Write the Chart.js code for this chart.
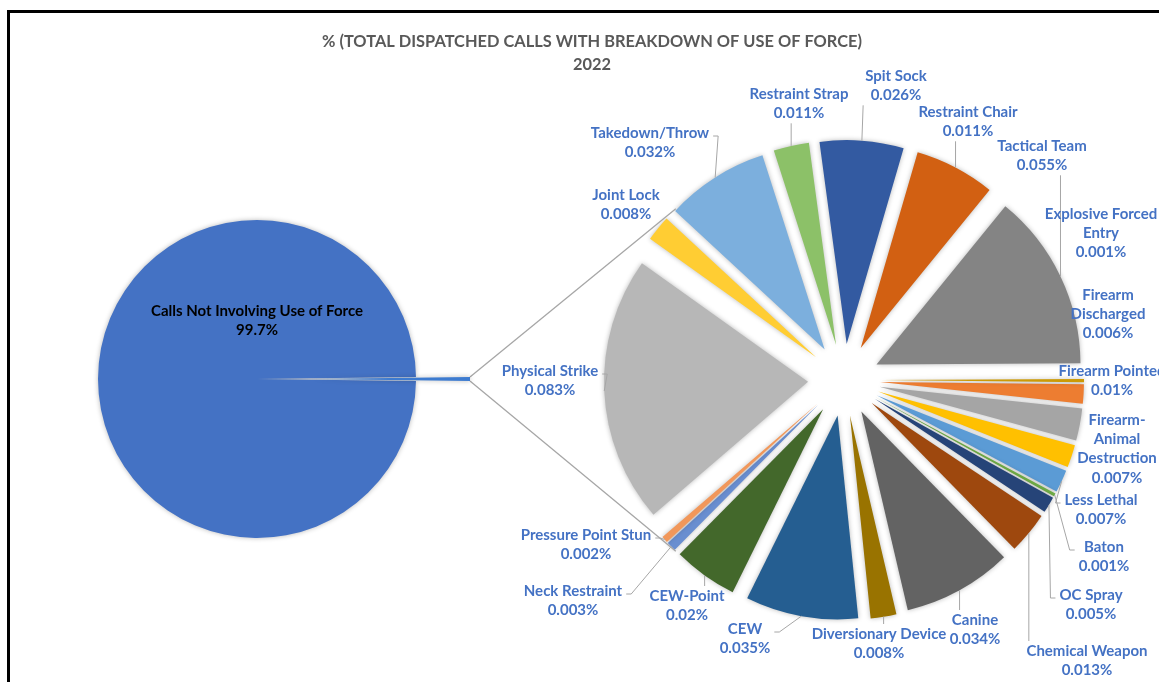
<!DOCTYPE html>
<html>
<head>
<meta charset="utf-8">
<title>% Total dispatched calls with breakdown of use of force 2022</title>
<script src="https://cdn.jsdelivr.net/npm/chart.js@4.4.1/dist/chart.umd.min.js"></script>
<style>
  html, body { margin: 0; padding: 0; background: #fff; }
  body { width: 1159px; height: 682px; position: relative; overflow: hidden; }
  #frame { position: absolute; left: 7px; top: 10px; width: 1220px; height: 720px;
           border-left: 3px solid #000; border-top: 3px solid #000; }
  #breakdown, #overall { position: absolute; left: 0; top: 0; }
</style>
</head>
<body>
<div id="frame"></div>
<canvas id="breakdown" width="1159" height="682"></canvas>
<canvas id="overall" width="520" height="682"></canvas>
<script>
// ---- data ----
const overallLabels = ["Calls Not Involving Use of Force", "Use of Force"];
const callsNotInvolving = 99.7;

// secondary pie, in drawing order (clockwise, starting just below 3 o'clock)
const forceTypes = [
  "Firearm Discharged", "Firearm Pointed", "Firearm-Animal Destruction", "Less Lethal",
  "Baton", "OC Spray", "Chemical Weapon", "Canine", "Diversionary Device", "CEW",
  "CEW-Point", "Neck Restraint", "Pressure Point Stun", "Physical Strike", "Joint Lock",
  "Takedown/Throw", "Restraint Strap", "Spit Sock", "Restraint Chair", "Tactical Team",
  "Explosive Forced Entry"
];
// % printed in the data labels
const forcePct = [0.006, 0.01, 0.007, 0.007, 0.001, 0.005, 0.013, 0.034, 0.008, 0.035,
                  0.02, 0.003, 0.002, 0.083, 0.008, 0.032, 0.011, 0.026, 0.011, 0.055, 0.001];
// slice sizes as drawn (the Restraint Chair slice is drawn about as big as Spit Sock)
const forceSlice = [0.006, 0.01, 0.007, 0.007, 0.001, 0.005, 0.013, 0.034, 0.008, 0.035,
                    0.02, 0.003, 0.002, 0.083, 0.008, 0.032, 0.011, 0.026, 0.025, 0.055, 0.001];

const forceColors = [
  "#ED7D31", "#A5A5A5", "#FFC000", "#5B9BD5", "#70AD47", "#264478", "#9E480E",
  "#636363", "#997300", "#255E91", "#43682B", "#698ED0", "#F1975A", "#B7B7B7",
  "#FFCD33", "#7CAFDD", "#8CC168", "#335AA1", "#D26012", "#848484", "#CC9A06"
];

// ---- layout of the data labels (centre x, first line y, leader style) ----
const labelLines = {
  "Firearm Discharged": ["Firearm", "Discharged"],
  "Firearm-Animal Destruction": ["Firearm-", "Animal", "Destruction"],
  "Explosive Forced Entry": ["Explosive Forced", "Entry"]
};
const labelSpots = [
  { x: 1108, y: 295, leader: null },
  { x: 1112, y: 371, leader: null },
  { x: 1117, y: 420, leader: null },
  { x: 1101, y: 500, leader: "s" },
  { x: 1104, y: 547, leader: "s" },
  { x: 1091, y: 595, leader: "s" },
  { x: 1087, y: 651, leader: "v" },
  { x: 975, y: 620, leader: "v" },
  { x: 879, y: 634, leader: "v" },
  { x: 745, y: 629, leader: "s" },
  { x: 687, y: 596, leader: "v" },
  { x: 573, y: 591, leader: "s" },
  { x: 586, y: 535, leader: "s" },
  { x: 550, y: 371, leader: "s" },
  { x: 626, y: 195, leader: null },
  { x: 650, y: 133, leader: "s" },
  { x: 799, y: 94, leader: "v" },
  { x: 896, y: 76, leader: "v" },
  { x: 968, y: 112, leader: "v" },
  { x: 1042, y: 146, leader: "v" },
  { x: 1101, y: 214, leader: null }
];

const LABEL_FONT = "bold 15px Lato";
const LINE_H = 19.3;
const LEADER_COLOR = "#A6A6A6";

// Excel explodes slices by moving them straight out; make the arc offset do the same
const ArcEl = Chart.ArcElement || Chart.elements.ArcElement;
const baseArcDraw = ArcEl.prototype.draw;
ArcEl.prototype.draw = function (ctx) {
  const push = this.options.offset || 0;
  if (!push) return baseArcDraw.call(this, ctx);
  const mid = (this.startAngle + this.endAngle) / 2;
  const opts = this.options;
  this.options = Object.assign({}, opts, { offset: 0 });
  ctx.save();
  ctx.translate(Math.cos(mid) * push, Math.sin(mid) * push);
  baseArcDraw.call(this, ctx);
  ctx.restore();
  this.options = opts;
};

// soft shadow under the slices
const sliceShadow = {
  id: "sliceShadow",
  beforeDatasetsDraw(chart) {
    const ctx = chart.ctx;
    ctx.save();
    ctx.shadowColor = "rgba(0,0,0,0.28)";
    ctx.shadowBlur = 5;
  },
  afterDatasetsDraw(chart) {
    chart.ctx.restore();
  }
};

// label inside the big pie
const callsLabel = {
  id: "callsLabel",
  afterDatasetsDraw(chart) {
    const ctx = chart.ctx;
    const arc = chart.getDatasetMeta(0).data[0];
    const value = chart.data.datasets[0].data[0];
    ctx.save();
    ctx.font = LABEL_FONT;
    ctx.fillStyle = "#000";
    ctx.textAlign = "center";
    ctx.textBaseline = "middle";
    ctx.fillText(chart.data.labels[0], arc.x, arc.y - 68);
    ctx.fillText(value + "%", arc.x, arc.y - 49);
    ctx.restore();
  }
};

function drawLeader(ctx, arc, box, style, attachY) {
  const mid = (arc.startAngle + arc.endAngle) / 2;
  const reach = arc.outerRadius + (arc.options.offset || 0);
  const px = arc.x + Math.cos(mid) * reach;
  const py = arc.y + Math.sin(mid) * reach;
  ctx.beginPath();
  ctx.moveTo(px, py);
  if (style === "v") {
    const x = Math.min(Math.max(px, box.l), box.r);
    ctx.lineTo(x, py > box.b ? box.b : box.t);
  } else {
    const left = px < box.l;
    const side = left ? box.l : box.r;
    const dir = left ? -1 : 1;
    ctx.lineTo(side + dir * 7, attachY);
    ctx.lineTo(side + dir * 2, attachY);
  }
  ctx.stroke();
}

// data labels + leader lines of the secondary pie
const forceLabels = {
  id: "forceLabels",
  afterDatasetsDraw(chart) {
    const ctx = chart.ctx;
    const arcs = chart.getDatasetMeta(0).data;
    ctx.save();
    ctx.font = LABEL_FONT;
    ctx.textAlign = "center";
    ctx.textBaseline = "middle";
    ctx.strokeStyle = LEADER_COLOR;
    ctx.lineWidth = 1;
    arcs.forEach((arc, i) => {
      const spot = labelSpots[i];
      const name = forceTypes[i];
      const lines = (labelLines[name] || [name]).concat(forcePct[i] + "%");
      const w = Math.max(...lines.map(t => ctx.measureText(t).width));
      const box = { l: spot.x - w / 2 - 2, r: spot.x + w / 2 + 2,
                    t: spot.y - 10, b: spot.y + (lines.length - 1) * LINE_H + 10 };
      if (spot.leader) drawLeader(ctx, arc, box, spot.leader, spot.y + 3);
      ctx.fillStyle = "#4472C4";
      lines.forEach((t, k) => ctx.fillText(t, spot.x, spot.y + k * LINE_H));
    });
    ctx.restore();
  }
};

// lines joining the "use of force" sliver to the secondary pie
const CONNECTOR_SPREAD = 45.5; // degrees either side of 9 o'clock
const connectorLines = {
  id: "connectorLines",
  afterDatasetsDraw(chart) {
    const small = overallChart.getDatasetMeta(0).data[1];
    const push = small.options.offset || 0;
    const mid = (small.startAngle + small.endAngle) / 2;
    const bx = small.x + Math.cos(mid) * push;
    const by = small.y + Math.sin(mid) * push;
    const a = chart.getDatasetMeta(0).data[0];
    const reach = a.outerRadius + (a.options.offset || 0);
    const spread = CONNECTOR_SPREAD * Math.PI / 180;
    const ends = [
      [small.startAngle, Math.PI + spread],
      [small.endAngle, Math.PI - spread]
    ];
    const ctx = chart.ctx;
    ctx.save();
    ctx.strokeStyle = LEADER_COLOR;
    ctx.lineWidth = 1.3;
    ends.forEach(([from, to]) => {
      ctx.beginPath();
      ctx.moveTo(bx + Math.cos(from) * small.outerRadius, by + Math.sin(from) * small.outerRadius);
      ctx.lineTo(a.x + Math.cos(to) * reach, a.y + Math.sin(to) * reach);
      ctx.stroke();
    });
    ctx.restore();
  }
};

// chart title
const chartTitle = {
  id: "chartTitle",
  afterDraw(chart) {
    const ctx = chart.ctx;
    ctx.save();
    ctx.font = "bold 16.4px Lato";
    ctx.fillStyle = "#595959";
    ctx.textAlign = "center";
    ctx.textBaseline = "middle";
    ctx.fillText("% (TOTAL DISPATCHED CALLS WITH BREAKDOWN OF USE OF FORCE)", 592, 42);
    ctx.fillText("2022", 592, 65);
    ctx.restore();
  }
};

// ---- primary pie ----
const useOfForceTotal = forceSlice.reduce((s, v) => s + v, 0);
const otherAngle = useOfForceTotal / (callsNotInvolving + useOfForceTotal) * 360;

const overallChart = new Chart(document.getElementById("overall"), {
  type: "pie",
  data: {
    labels: overallLabels,
    datasets: [{
      data: [callsNotInvolving, useOfForceTotal],
      backgroundColor: ["#4472C4", "#3D7BD0"],
      borderWidth: 0,
      offset: [0, 54]
    }]
  },
  options: {
    responsive: false,
    animation: false,
    events: [],
    radius: 159,
    rotation: 90 + otherAngle / 2,
    layout: { padding: { left: 0, right: 6, top: 76, bottom: 0 } },
    plugins: { legend: { display: false }, tooltip: { enabled: false } }
  },
  plugins: [sliceShadow, callsLabel]
});

// ---- secondary pie ----
const breakdownChart = new Chart(document.getElementById("breakdown"), {
  type: "pie",
  data: {
    labels: forceTypes,
    datasets: [{
      data: forceSlice,
      backgroundColor: forceColors,
      borderWidth: 0,
      offset: 36
    }]
  },
  options: {
    responsive: false,
    animation: false,
    events: [],
    radius: 204,
    rotation: 90.6,
    layout: { padding: { left: 604, right: 75, top: 140, bottom: 62 } },
    plugins: { legend: { display: false }, tooltip: { enabled: false } }
  },
  plugins: [sliceShadow, connectorLines, forceLabels, chartTitle]
});
</script>
</body>
</html>
